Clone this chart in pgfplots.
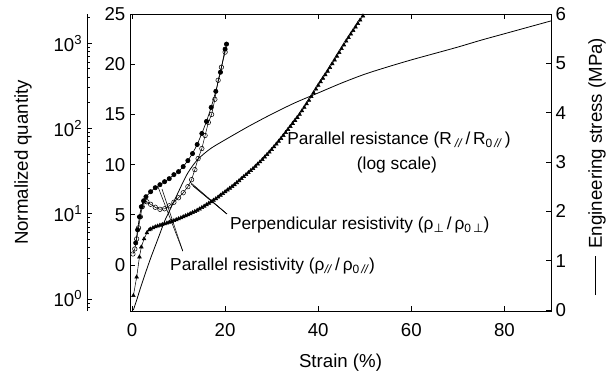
\documentclass[border=0pt]{standalone}
\usepackage{pgfplots}
\pgfplotsset{compat=1.18}
\usepackage{fontspec}
\setmainfont{Liberation Sans}
\newfontfamily\dejavu{DejaVu Sans}
\newcommand\fs{\fontsize{14}{16}\selectfont}
\newcommand\fa{\fontsize{13}{16}\selectfont}
\newcommand\sub[1]{\raisebox{-0.35ex}{\fontsize{9}{10}\selectfont #1}}
\begin{document}
\begin{tikzpicture}
\path[use as bounding box] (0,0) rectangle (462pt,283.5pt);
\pgfplotsset{
  every axis/.append style={
    scale only axis, width=315.75pt, height=222.75pt,
    tick align=inside, major tick length=3.5pt, minor tick length=2pt,
    tick label style={font=\fs}, label style={font=\fs},
    /pgf/number format/assume math mode=true,
    axis line style={line width=0.6pt},
    every tick/.style={black, line width=0.5pt},
  }
}
% ---------------- main linear axis ----------------
\begin{axis}[at={(97.5pt,50.25pt)}, anchor=south west,
  xmin=-0.43, xmax=90, ymin=-4.58, ymax=25,
  xtick={0,20,40,60,80}, ytick={0,5,10,15,20,25},
  ytick pos=left, xtick pos=both, xticklabel pos=lower,
  xticklabel style={yshift=-6pt},
  xlabel={Strain (\%)},
  xlabel style={at={(axis description cs:0.5,0)}, anchor=center, yshift=-39pt},
  clip=false]
% parallel resistivity (filled circles)
\addplot[black, line width=0.5pt, mark=*, mark size=1.6pt] coordinates {
(0.8,2.2) (1.2,3.5) (1.6,4.8) (2.0,5.8) (2.5,6.4) (3.0,6.8) (4.0,7.3) (5.0,7.7)
(6.0,8.0) (7.0,8.3) (8.0,8.6) (9.0,9.0) (10.0,9.3) (11.0,9.8) (12.0,10.4)
(13.0,11.1) (14.0,12.0) (15.0,13.1) (16.0,14.3) (17.0,15.7) (18.0,17.3)
(19.0,19.2) (20.0,21.5) (20.3,22.0)};
% perpendicular resistivity (open circles)
\addplot[black, line width=0.4pt, mark=o, mark size=1.7pt, mark options={fill=white}] coordinates {
(0.2,1.1) (0.6,1.6) (1.0,2.6) (1.4,3.7) (1.8,4.8) (2.2,5.8) (2.6,6.3) (3.2,6.3)
(4.0,6.05) (5.0,5.75) (6.0,5.55) (7.0,5.6) (8.0,5.9) (9.0,6.25) (10.0,6.7)
(11.0,7.2) (12.0,7.8) (12.8,8.5) (13.5,9.5) (14.2,10.6) (15.0,11.6) (15.7,12.9)
(16.4,14.2) (17.1,15.0) (17.8,16.5) (18.5,18.4) (19.2,19.7) (20.0,21.2)};
% parallel resistance (triangles, log scale)
\addplot[black, line width=0.4pt, mark=triangle*, mark size=1.6pt] coordinates {
(0.3,-3.05) (1.0,-1.2) (1.6,0.8) (2.0,1.8) (2.6,2.6) (3.2,3.2) (3.7,3.5)
(4.0,3.58) (4.5,3.7) (5,3.8) (5.5,3.88) (6,3.96) (6.5,4.03) (7,4.1) (7.5,4.18)
(8,4.26) (8.5,4.34) (9,4.42) (9.5,4.51) (10,4.6) (10.5,4.7) (11,4.8) (11.5,4.9)
(12,5.0) (12.5,5.11) (13,5.22) (13.5,5.33) (14,5.45) (14.5,5.58) (15,5.72)
(15.5,5.86) (16,6.0) (16.5,6.15) (17,6.3) (17.5,6.45) (18,6.6) (18.5,6.77)
(19,6.95) (19.5,7.12) (20,7.3) (20.5,7.47) (21,7.65) (21.5,7.82) (22,8.0)
(22.5,8.2) (23,8.4) (23.5,8.6) (24,8.8) (24.5,9.0) (25,9.2) (25.5,9.4) (26,9.6)
(26.5,9.82) (27,10.05) (27.5,10.27) (28,10.5) (28.5,10.75) (29,11.0) (29.5,11.25)
(30,11.5) (30.5,11.77) (31,12.05) (31.5,12.32) (32,12.6) (32.5,12.9) (33,13.2)
(33.5,13.5) (34,13.8) (34.5,14.1) (35,14.4) (35.5,14.7) (36,15.0) (36.5,15.35)
(37,15.7) (37.5,16.05) (38,16.4) (38.5,16.77) (39,17.15) (39.5,17.52) (40,17.9)
(40.5,18.25) (41,18.6) (41.5,18.95) (42,19.3) (42.5,19.67) (43,20.05) (43.5,20.42)
(44,20.8) (44.5,21.17) (45,21.55) (45.5,21.92) (46,22.3) (46.5,22.65) (47,23.0)
(47.5,23.35) (48,23.7) (48.5,24.05) (49,24.4) (49.6,24.8)};
% annotations
\node[anchor=west, font=\fa, inner sep=0pt] at (axis cs:33.3,12.45)
  {Parallel resistance (R\,\sub{\textit{//}}\,/\,R\sub{0\,\textit{//}}\,)};
\node[font=\fa, inner sep=0pt] at (axis cs:56.9,9.96) {(log scale)};
\node[anchor=west, font=\fa, inner sep=0pt] at (axis cs:21.0,4.0)
  {Perpendicular resistivity (ρ\sub{\dejavu ⊥}\,/\,ρ\sub{0\,\dejavu ⊥})};
\node[anchor=west, font=\fa, inner sep=0pt] at (axis cs:8.15,-0.1)
  {Parallel resistivity (ρ\sub{\textit{//}}\,/\,ρ\sub{0\,\textit{//}})};
\draw[line width=0.4pt] (axis cs:10.9,1.39) -- (axis cs:5.6,7.77);
\draw[line width=0.4pt] (axis cs:10.9,1.39) -- (axis cs:6.44,7.57);
\draw[line width=0.4pt] (axis cs:20.4,5.08) -- (axis cs:12.45,8.27);
\draw[line width=0.4pt] (axis cs:20.4,5.08) -- (axis cs:12.7,8.07);
\draw[line width=0.4pt] (axis cs:20.4,5.08) -- (axis cs:13.1,7.87);
\end{axis}
% ---------------- stress axis (right) ----------------
\begin{axis}[at={(97.5pt,50.25pt)}, anchor=south west,
  xmin=-0.43, xmax=90, ymin=-0.02, ymax=6,
  axis y line*=right, axis x line=none,
  ytick={0,1,2,3,4,5,6},
  ylabel={\rule[0.32em]{2.1em}{0.6pt}\hspace{0.4em}Engineering stress (MPa)},
  ylabel style={at={(axis description cs:1,0.5)}, anchor=center, yshift=-34.5pt, xshift=-3pt}]
\addplot[black, line width=0.6pt, smooth] coordinates {
(0.3,0) (1,0.2) (2,0.5) (3,0.78) (4,1.05) (5,1.3) (6,1.55) (7,1.8) (8,2.0)
(9,2.2) (10,2.4) (11,2.6) (12,2.78) (13,2.92) (14,3.04) (15,3.13) (17,3.28)
(20,3.45) (25,3.72) (30,3.97) (35,4.2) (40,4.4) (45,4.6) (50,4.78) (55,4.93)
(60,5.07) (65,5.2) (70,5.33) (75,5.47) (80,5.6) (85,5.73) (90,5.86)};
\end{axis}
% ---------------- log axis (far left) ----------------
\begin{axis}[at={(65.25pt,50.25pt)}, anchor=south west, width=5pt,
  xmin=0, xmax=1, ymode=log, ymin=0.723, ymax=2193,
  axis y line*=left, axis x line=none,
  ytick={1,10,100,1000},
  yticklabels={10\textsuperscript{0},10\textsuperscript{1},10\textsuperscript{2},10\textsuperscript{3}},
  minor ytick={0.8,0.9,2,3,4,5,6,7,8,9,20,30,40,50,60,70,80,90,200,300,400,500,600,700,800,900,2000},
  ylabel={Normalized quantity},
  ylabel style={at={(axis description cs:0,0.5)}, anchor=center, yshift=48pt}]
\addplot[draw=none] coordinates {(0,1)};
\end{axis}
\end{tikzpicture}
\end{document}
